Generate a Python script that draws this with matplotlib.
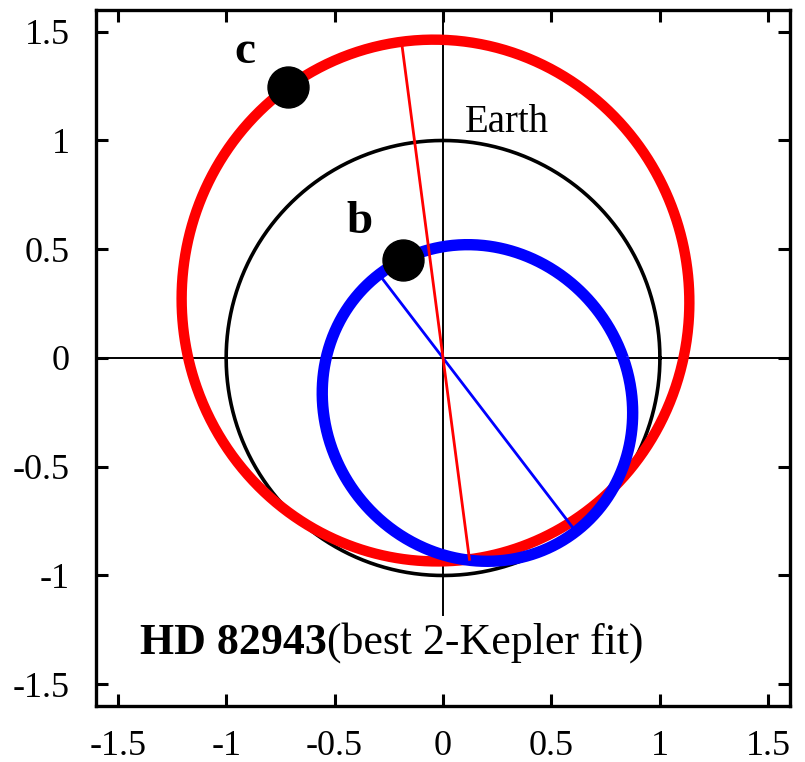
import numpy as np
import matplotlib
matplotlib.use("Agg")
import matplotlib.pyplot as plt

plt.rcParams['font.family'] = ['Liberation Serif', 'DejaVu Serif']
plt.rcParams['axes.unicode_minus'] = False

# Orbital elements of the two planets (star at the focus, origin)
planet_names = ['b', 'c']
semi_major = [0.745, 1.20]          # semi-major axis
eccentricity = [0.35, 0.222]
apastron_dir_deg = [-52.5, 97.5]    # direction of apastron seen from the star
planet_dir_deg = [112.4, 119.9]     # current position angle of each planet
orbit_colors = ['blue', 'red']
label_pos_x = [-0.383, -0.914]
label_pos_y = [0.573, 1.358]

earth_radius = 1.0

ticks = [-1.5, -1, -0.5, 0, 0.5, 1, 1.5]
tick_labels = ['-1.5', '-1', '-0.5', '0', '0.5', '1', '1.5']
lim = 1.6


def orbit_radius(theta, a, e, peri):
    p = a * (1 - e ** 2)
    return p / (1 + e * np.cos(theta - peri))


fig = plt.figure(figsize=(8.05, 7.62), dpi=100)
ax = fig.add_axes([0.1193, 0.0735, 0.8621, 0.9134])

# reference axes through the star
ax.axhline(0, color='black', lw=1.4, zorder=1)
ax.plot([0, 0], [-1.18, lim], color='black', lw=1.4, zorder=1)

# Earth's orbit
th = np.linspace(0, 2 * np.pi, 720)
ax.plot(earth_radius * np.cos(th), earth_radius * np.sin(th), color='black', lw=2.6, zorder=2)
ax.text(0.10, 1.037, 'Earth', fontsize=28, ha='left', va='baseline')

orbit_lw = {'red': 7.5, 'blue': 8.2}
order = [1, 0]  # outer orbit first, inner drawn above it
for k, i in enumerate(order):
    a, e = semi_major[i], eccentricity[i]
    apo = np.deg2rad(apastron_dir_deg[i])
    peri = apo + np.pi
    r = orbit_radius(th, a, e, peri)
    ax.plot(r * np.cos(th), r * np.sin(th), color=orbit_colors[i],
            lw=orbit_lw[orbit_colors[i]], zorder=3 + k, solid_capstyle='butt')

for i in range(2):
    a, e = semi_major[i], eccentricity[i]
    apo = np.deg2rad(apastron_dir_deg[i])
    peri = apo + np.pi
    ra, rp = a * (1 + e), a * (1 - e)
    ax.plot([ra * np.cos(apo), rp * np.cos(peri)], [ra * np.sin(apo), rp * np.sin(peri)],
            color=orbit_colors[i], lw=2.0, zorder=6)
    phi = np.deg2rad(planet_dir_deg[i])
    rpl = orbit_radius(phi, a, e, peri)
    ax.plot(rpl * np.cos(phi), rpl * np.sin(phi), 'o', color='black', ms=29.5, zorder=7)
    ax.text(label_pos_x[i], label_pos_y[i], planet_names[i], fontsize=34,
            fontweight='bold', ha='center', va='baseline')

t1 = ax.text(-1.398, -1.362, 'HD 82943', fontsize=31.6, fontweight='bold',
             ha='left', va='baseline')
ax.annotate('(best 2-Kepler fit)', xy=(1, 0), xycoords=t1, xytext=(0, 0),
            textcoords='offset points', fontsize=31.6, ha='left', va='bottom')

ax.set_xlim(-lim, lim)
ax.set_ylim(-lim, lim)
ax.set_xticks(ticks)
ax.set_xticklabels(tick_labels)
ax.set_yticks(ticks)
ax.set_yticklabels(tick_labels)
ax.tick_params(axis='x', pad=17)
ax.tick_params(axis='y', pad=19)
ax.tick_params(direction='in', top=True, right=True, length=8.6, width=2.2,
               labelsize=26)
for s in ax.spines.values():
    s.set_linewidth(2.4)

fig.savefig('out.png', dpi=100)
